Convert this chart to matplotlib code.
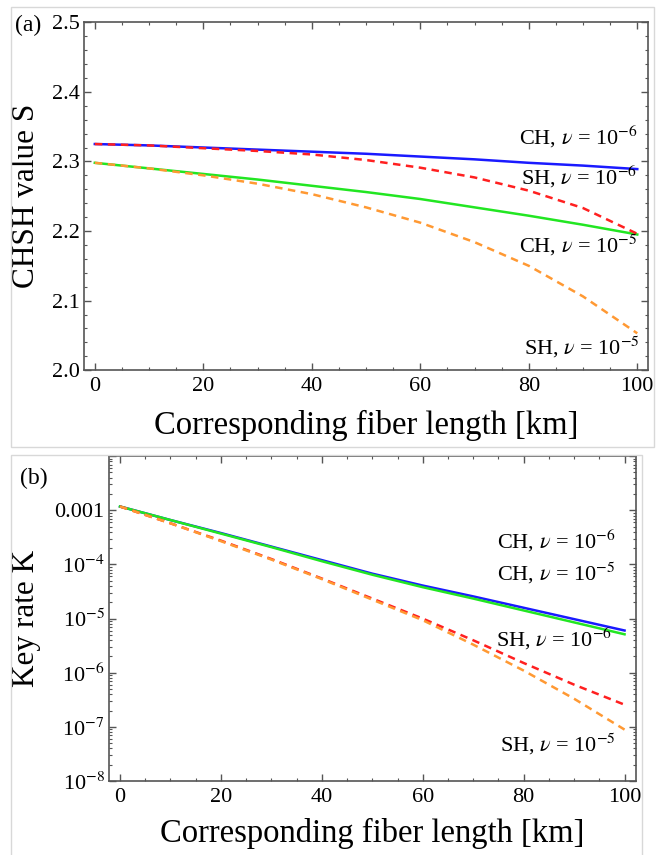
# CHSH value and key rate vs fiber length, two stacked panels
import matplotlib
matplotlib.use('agg')
import matplotlib.pyplot as plt
from matplotlib.patches import Rectangle
from matplotlib.ticker import FixedLocator, FixedFormatter, MultipleLocator, LogLocator, NullFormatter
import numpy as np

plt.rcParams['font.family'] = ['Liberation Serif', 'DejaVu Serif']
plt.rcParams['mathtext.fontset'] = 'stix'

# fiber length [km]
length = [0, 10, 20, 30, 40, 50, 60, 70, 80, 90, 100]

# (a) CHSH value S
s_ch6 = [2.325, 2.323, 2.320, 2.317, 2.314, 2.311, 2.307, 2.303, 2.298, 2.294, 2.289]
s_sh6 = [2.325, 2.323, 2.319, 2.315, 2.310, 2.302, 2.291, 2.277, 2.258, 2.233, 2.196]
s_ch5 = [2.298, 2.290, 2.282, 2.274, 2.265, 2.256, 2.246, 2.234, 2.222, 2.209, 2.195]
s_sh5 = [2.298, 2.290, 2.280, 2.268, 2.253, 2.234, 2.212, 2.184, 2.150, 2.106, 2.053]

# (b) key rate K, stored as log10(K)
logk_ch6 = [-2.93, -3.18, -3.42, -3.67, -3.92, -4.17, -4.39, -4.59, -4.80, -5.01, -5.22]
logk_ch5 = [-2.93, -3.18, -3.43, -3.68, -3.94, -4.19, -4.42, -4.63, -4.85, -5.07, -5.29]
logk_sh6 = [-2.93, -3.24, -3.56, -3.90, -4.26, -4.63, -5.00, -5.40, -5.82, -6.22, -6.59]
logk_sh5 = [-2.93, -3.24, -3.57, -3.91, -4.27, -4.65, -5.03, -5.48, -5.96, -6.48, -7.05]

k_ticks = [1e-8, 1e-7, 1e-6, 1e-5, 1e-4, 1e-3]
k_tick_labels = ['10$^{-8}$', '10$^{-7}$', '10$^{-6}$', '10$^{-5}$', '10$^{-4}$', '0.001']

labels = [r'CH, $\nu$ = 10$^{-6}$', r'SH, $\nu$ = 10$^{-6}$',
          r'CH, $\nu$ = 10$^{-5}$', r'SH, $\nu$ = 10$^{-5}$']

BLUE = '#1a1aff'
GREEN = '#22e622'
RED = '#ff2020'
ORANGE = '#ff9933'
SPINE = '#555555'

fig = plt.figure(figsize=(6.56, 8.55), dpi=100)

# light frames around each panel
fig.add_artist(Rectangle((0.0168, 0.477), 0.98, 0.515, transform=fig.transFigure,
                         fill=False, edgecolor='#d8d8d8', lw=1))
fig.add_artist(Rectangle((0.0168, -0.01), 0.962, 0.478, transform=fig.transFigure,
                         fill=False, edgecolor='#d8d8d8', lw=1))


def style_axes(ax):
    for sp in ax.spines.values():
        sp.set_color(SPINE)
        sp.set_linewidth(1.2)
    ax.tick_params(which='both', direction='in', top=True, right=True,
                   color=SPINE, labelsize=16)
    ax.tick_params(which='major', length=5, width=1)
    ax.tick_params(which='minor', length=2.5, width=0.8)
    ax.xaxis.set_major_locator(MultipleLocator(20))
    ax.xaxis.set_minor_locator(MultipleLocator(5))


# ---- panel (a)
ax1 = fig.add_axes([0.128, 0.567, 0.860, 0.407])
ax1.plot(length, s_ch6, color=BLUE, lw=1.8)
ax1.plot(length, s_ch5, color=GREEN, lw=1.8)
ax1.plot(length, s_sh6, color=RED, lw=1.8, dashes=(3, 2.2))
ax1.plot(length, s_sh5, color=ORANGE, lw=1.8, dashes=(3, 2.2))
ax1.set_xlim(-2, 102)
ax1.set_ylim(2.0, 2.5)
style_axes(ax1)
ax1.yaxis.set_major_locator(MultipleLocator(0.1))
ax1.yaxis.set_minor_locator(MultipleLocator(0.02))
ax1.tick_params(axis='x', pad=5)
ax1.tick_params(axis='y', pad=3)
ax1.set_xlabel('Corresponding fiber length [km]', fontsize=23.5)
ax1.xaxis.set_label_coords(0.5, -0.115)
ax1.set_ylabel('CHSH value S', fontsize=22.5)
ax1.yaxis.set_label_coords(-0.076, 0.5)

ann_a = [(100, 2.335), (100, 2.277), (100, 2.180), (100.5, 2.033)]
for (xx, yy), lab in zip(ann_a, labels):
    ax1.text(xx, yy, lab, fontsize=16, ha='right', va='center')

# ---- panel (b)
ax2 = fig.add_axes([0.166, 0.0865, 0.803, 0.380])
ax2.set_yscale('log')
ax2.plot(length, 10.0 ** np.array(logk_ch6), color=BLUE, lw=1.8)
ax2.plot(length, 10.0 ** np.array(logk_ch5), color=GREEN, lw=1.8)
ax2.plot(length, 10.0 ** np.array(logk_sh6), color=RED, lw=1.8, dashes=(3, 2.2))
ax2.plot(length, 10.0 ** np.array(logk_sh5), color=ORANGE, lw=1.8, dashes=(3, 2.2))
ax2.set_xlim(-2.2, 102.2)
ax2.set_ylim(1e-8, 1e-2)
style_axes(ax2)
ax2.yaxis.set_major_locator(FixedLocator(k_ticks + [1e-2]))
ax2.yaxis.set_major_formatter(FixedFormatter(k_tick_labels + ['']))
ax2.yaxis.set_minor_locator(LogLocator(base=10, subs=np.arange(2, 10), numticks=20))
ax2.yaxis.set_minor_formatter(NullFormatter())
ax2.tick_params(axis='x', pad=5)
ax2.tick_params(axis='y', pad=3)
ax2.set_xlabel('Corresponding fiber length [km]', fontsize=23.5)
ax2.xaxis.set_label_coords(0.5, -0.113)
ax2.set_ylabel('Key rate K', fontsize=22.5)
ax2.yaxis.set_label_coords(-0.128, 0.5)

ann_b = [(98.2, 10 ** -3.57), (98.2, 10 ** -4.16), (97.6, 10 ** -5.38), (98.2, 10 ** -7.32)]
lab_b = [labels[0], labels[2], labels[1], labels[3]]
for (xx, yy), lab in zip(ann_b, lab_b):
    ax2.text(xx, yy, lab, fontsize=16, ha='right', va='center')

fig.text(15 / 656, 1 - 25 / 855, '(a)', fontsize=17, ha='left', va='center')
fig.text(20 / 656, 1 - 478 / 855, '(b)', fontsize=17, ha='left', va='center')

fig.savefig('out.png', dpi=100, facecolor='white')
plt.close(fig)
